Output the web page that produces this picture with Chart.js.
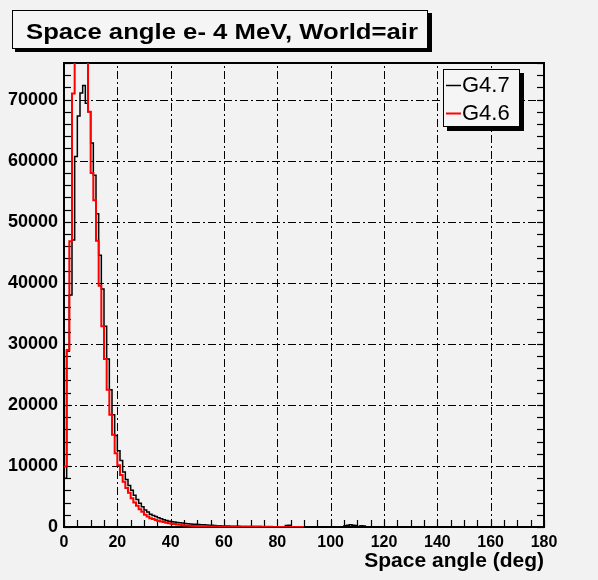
<!DOCTYPE html>
<html>
<head>
<meta charset="utf-8">
<script src="https://cdn.jsdelivr.net/npm/chart.js@4/dist/chart.umd.min.js"></script>
<style>
  html, body { margin: 0; padding: 0; background: #f2f2f2; }
  canvas { display: block; }
</style>
</head>
<body>
<canvas id="spaceAngle" width="598" height="580"></canvas>
<script>
// Space angle histograms, 1 degree bins starting at 0 deg
const binStart = 0;
const binWidth = 1;

// G4.7 (black)
const countsG47 = [
  8000, 28800, 38000, 47000, 60700, 67300, 71100, 72300, 69400, 68000,
  62900, 57600, 51300, 44500, 39000, 32900, 27500, 22500, 18400, 15000,
  12500, 10900, 9000, 7800, 6800, 6000, 5200, 4500, 3900, 3300,
  2800, 2450, 2100, 1900, 1700, 1500, 1350, 1200, 1080, 960,
  880, 810, 750, 690, 640, 590, 540, 500, 460, 430,
  400, 380, 360, 330, 300, 270, 240, 220, 200, 180,
  160, 150, 140, 130, 120, 110, 100, 95, 90, 85,
  80, 75, 70, 65, 60, 55, 50, 50, 45, 45,
  40, 40, 40, 250, 300, 60, 30, 20, 20, 20,
  20, 20, 20, 20, 20, 20, 20, 20, 20, 20,
  20, 20, 20, 20, 20, 200, 300, 350, 300, 250,
  100, 200, 150, 20, 20, 0
];

// G4.6 (red)
const countsG46 = [
  9900, 29000, 46800, 71000, 77000, 84000, 86000, 84000, 79000, 68000,
  58000, 53500, 46900, 39500, 32900, 27500, 22500, 18400, 15100, 12100,
  10100, 8500, 7400, 6400, 5600, 4700, 4000, 3500, 2900, 2500,
  2000, 1700, 1450, 1300, 1150, 1000, 900, 800, 700, 620,
  550, 480, 420, 360, 300, 260, 230, 200, 180, 160,
  140, 130, 120, 110, 100, 95, 90, 85, 80, 75,
  70, 65, 60, 55, 50, 50, 45, 45, 40, 40,
  35, 35, 30, 30, 30, 25, 25, 25, 20, 20,
  20, 20, 15, 15, 15, 15, 10, 10, 10, 10
];

const xTicks = [0, 20, 40, 60, 80, 100, 120, 140, 160, 180];
const yTicks = [0, 10000, 20000, 30000, 40000, 50000, 60000, 70000];
const xMax = 180;
const yMax = 76000;
const xMinorStep = 5;
const yMinorStep = 2000;

// histogram -> step points (left bin edges + closing right edge)
function histPoints(counts) {
  const pts = counts.map((c, i) => ({ x: binStart + i * binWidth, y: c }));
  pts.push({ x: binStart + counts.length * binWidth, y: counts[counts.length - 1] });
  return pts;
}

const FONT = '"Liberation Sans", Arial, Helvetica, sans-serif';
Chart.defaults.font.family = FONT;
Chart.defaults.color = '#000';

// ROOT-like frame, dash-dot grid, inside ticks, title and legend
const rootStyle = {
  id: 'rootStyle',
  beforeDraw(chart) {
    const ctx = chart.ctx;
    ctx.save();
    ctx.fillStyle = '#f2f2f2';
    ctx.fillRect(0, 0, chart.width, chart.height);
    ctx.restore();
  },
  beforeDatasetsDraw(chart) {
    const { ctx, chartArea: a, scales: { x, y } } = chart;
    ctx.save();
    ctx.strokeStyle = '#000';
    ctx.lineWidth = 1;
    ctx.setLineDash([8, 3, 2, 3]);
    xTicks.forEach(v => {
      if (v <= 0 || v >= xMax) return;
      const px = Math.round(x.getPixelForValue(v)) + 0.5;
      ctx.beginPath(); ctx.moveTo(px, a.bottom); ctx.lineTo(px, a.top); ctx.stroke();
    });
    yTicks.forEach(v => {
      if (v <= 0) return;
      const py = Math.round(y.getPixelForValue(v)) + 0.5;
      ctx.beginPath(); ctx.moveTo(a.left, py); ctx.lineTo(a.right, py); ctx.stroke();
    });
    ctx.setLineDash([]);
    // minor ticks
    ctx.lineWidth = 1.2;
    for (let v = 0; v <= xMax; v += xMinorStep) {
      const px = Math.round(x.getPixelForValue(v)) + 0.5;
      ctx.beginPath(); ctx.moveTo(px, a.bottom); ctx.lineTo(px, a.bottom - 7); ctx.stroke();
    }
    for (let v = 0; v <= yMax; v += yMinorStep) {
      const py = Math.round(y.getPixelForValue(v)) + 0.5;
      ctx.beginPath(); ctx.moveTo(a.left, py); ctx.lineTo(a.left + 7, py); ctx.stroke();
      ctx.beginPath(); ctx.moveTo(a.right, py); ctx.lineTo(a.right - 7, py); ctx.stroke();
    }
    // frame
    ctx.lineWidth = 2;
    ctx.strokeRect(a.left, a.top, a.right - a.left, a.bottom - a.top);
    ctx.restore();
  },
  afterDraw(chart) {
    const ctx = chart.ctx;
    ctx.save();
    // title box
    ctx.fillStyle = '#000';
    ctx.fillRect(15, 13, 417, 39);
    ctx.fillStyle = '#f5f5f5';
    ctx.fillRect(12, 10, 416, 39);
    ctx.strokeStyle = '#000';
    ctx.lineWidth = 1;
    ctx.strokeRect(12.5, 10.5, 415, 38);
    const title = 'Space angle e- 4 MeV, World=air';
    ctx.font = 'bold 22px ' + FONT;
    const tw = ctx.measureText(title).width;
    ctx.save();
    ctx.translate(26, 39);
    ctx.scale(392 / tw, 1);
    ctx.fillStyle = '#000';
    ctx.textBaseline = 'alphabetic';
    ctx.fillText(title, 0, 0);
    ctx.restore();

    // legend box
    ctx.fillStyle = '#000';
    ctx.fillRect(447, 73, 77, 58);
    ctx.fillStyle = '#f5f5f5';
    ctx.fillRect(443, 69, 77, 58);
    ctx.strokeRect(443.5, 69.5, 76, 57);
    ctx.font = '22px ' + FONT;
    ctx.textBaseline = 'alphabetic';
    chart.data.datasets.forEach((ds, i) => {
      const yy = 85 + i * 28;
      ctx.strokeStyle = ds.borderColor;
      ctx.lineWidth = ds.borderWidth;
      ctx.beginPath(); ctx.moveTo(446, yy + 0.5); ctx.lineTo(461, yy + 0.5); ctx.stroke();
      ctx.fillStyle = '#000';
      ctx.fillText(ds.label, 462, yy + 7);
    });
    ctx.restore();
  }
};

new Chart(document.getElementById('spaceAngle'), {
  type: 'line',
  data: {
    datasets: [
      {
        label: 'G4.7',
        data: histPoints(countsG47),
        borderColor: '#000000',
        borderWidth: 1.5,
        stepped: true,
        pointRadius: 0,
        fill: false,
        order: 2
      },
      {
        label: 'G4.6',
        data: histPoints(countsG46),
        borderColor: '#ff0000',
        borderWidth: 2,
        stepped: true,
        pointRadius: 0,
        fill: false,
        order: 1
      }
    ]
  },
  options: {
    responsive: false,
    animation: false,
    events: [],
    layout: { padding: { left: 0, right: 54, top: 63, bottom: 0 } },
    plugins: {
      legend: { display: false },
      title: { display: false },
      tooltip: { enabled: false }
    },
    scales: {
      x: {
        type: 'linear',
        min: 0,
        max: xMax,
        afterBuildTicks: s => { s.ticks = xTicks.map(v => ({ value: v })); },
        afterFit: s => { s.height = 53; },
        grid: { display: false, drawTicks: false },
        border: { display: false },
        ticks: {
          padding: 6,
          color: '#000',
          autoSkip: false,
          maxRotation: 0,
          font: { size: 16, weight: 'bold' },
          callback: v => String(v)
        },
        title: {
          display: true,
          text: 'Space angle (deg)',
          align: 'end',
          color: '#000',
          font: { size: 21, weight: 'bold' },
          padding: { top: 0, bottom: 6 }
        }
      },
      y: {
        type: 'linear',
        min: 0,
        max: yMax,
        afterBuildTicks: s => { s.ticks = yTicks.map(v => ({ value: v })); },
        afterFit: s => { s.width = 64; },
        grid: { display: false, drawTicks: false },
        border: { display: false },
        ticks: {
          padding: 6,
          color: '#000',
          autoSkip: false,
          font: { size: 18, weight: 'bold' },
          callback: v => String(v)
        }
      }
    }
  },
  plugins: [rootStyle]
});
</script>
</body>
</html>
